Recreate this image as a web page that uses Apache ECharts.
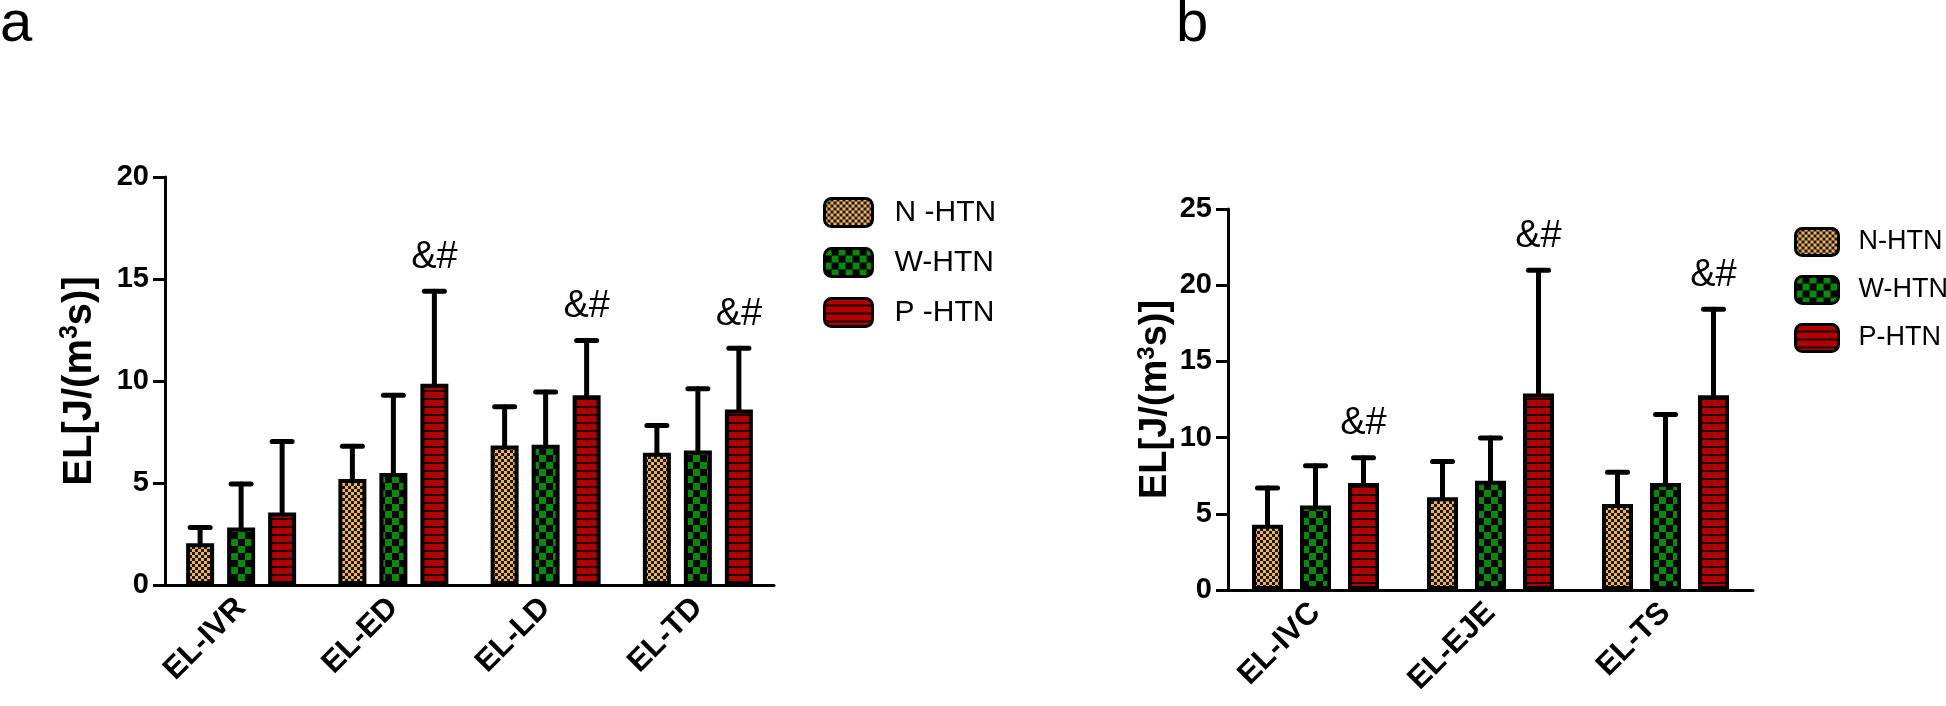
<!DOCTYPE html>
<html>
<head>
<meta charset="utf-8">
<script src="https://cdn.jsdelivr.net/npm/echarts@6/dist/echarts.min.js"></script>
<style>
  html, body { margin: 0; padding: 0; background: #fff; }
  #main { width: 1946px; height: 706px; }
</style>
</head>
<body>
<div id="main"></div>
<script>
// panel a
var catsA = ["EL-IVR", "EL-ED", "EL-LD", "EL-TD"]
var nA = [2.05, 5.2, 6.84, 6.48]
var nAtop = [2.82, 6.8, 8.74, 7.82]
var wA = [2.82, 5.49, 6.87, 6.59]
var wAtop = [4.95, 9.3, 9.46, 9.62]
var pA = [3.56, 9.87, 9.3, 8.6]
var pAtop = [7.03, 14.4, 11.98, 11.6]
var sigA = ["", "&#", "&#", "&#"]
var namesA = ["N -HTN", "W-HTN", "P -HTN"]
var ticksA = [0, 20, 5]

// panel b
var catsB = ["EL-IVC", "EL-EJE", "EL-TS"]
var nB = [4.28, 6.09, 5.65]
var nBtop = [6.7, 8.43, 7.72]
var wB = [5.54, 7.17, 7.02]
var wBtop = [8.15, 9.98, 11.52]
var pB = [7.02, 12.9, 12.78]
var pBtop = [8.67, 20.98, 18.43]
var sigB = ["&#", "&#", "&#"]
var namesB = ["N-HTN", "W-HTN", "P-HTN"]
var ticksB = [0, 25, 5]

// superscript 3 done with rich text
var yName = "EL[J/(m{s|3}s)]"

function tile(w, h, draw) {
  var c = document.createElement("canvas")
  c.width = w
  c.height = h
  draw(c.getContext("2d"))
  return { image: c, repeat: "repeat" }
}
var patN = tile(6, 6, function (ctx) {
  ctx.fillStyle = "#EEB15E"
  ctx.fillRect(0, 0, 6, 6)
  ctx.fillStyle = "#1a1a1a"
  ctx.fillRect(0, 0, 3, 3)
  ctx.fillRect(3, 3, 3, 3)
})
var patW = tile(14, 14, function (ctx) {
  ctx.fillStyle = "#000"
  ctx.fillRect(0, 0, 14, 14)
  ctx.fillStyle = "#0B870B"
  ctx.fillRect(0, 0, 7, 7)
  ctx.fillRect(7, 7, 7, 7)
})
var patP = tile(4, 8, function (ctx) {
  ctx.fillStyle = "#B00000"
  ctx.fillRect(0, 0, 4, 8)
  ctx.fillStyle = "#1a0000"
  ctx.fillRect(0, 6, 4, 2)
})
var pats = [patN, patW, patP]

var numFont = "'Liberation Sans Narrow', 'Liberation Sans', Arial, sans-serif"
var txtFont = "'Liberation Sans', Arial, sans-serif"

// bar layout per panel: bar width and distance between bar centres
var layA = { bw: 28, step: 41 }
var layB = { bw: 31, step: 48 }

function errSeries(g, k, means, tops, sig, lay) {
  var data = means.map(function (m, i) { return [i, m, tops[i]] })
  return {
    type: "custom",
    xAxisIndex: g,
    yAxisIndex: g,
    z: 5,
    silent: true,
    data: data,
    renderItem: function (params, api) {
      var p0 = api.coord([api.value(0), api.value(1)])
      var p1 = api.coord([api.value(0), api.value(2)])
      var x = p0[0] + (k - 1) * lay.step
      var ls = { stroke: "#000", lineWidth: 5, lineCap: "round" }
      var kids = [
        { type: "line", shape: { x1: x, y1: p0[1], x2: x, y2: p1[1] }, style: ls },
        { type: "line", shape: { x1: x - 10, y1: p1[1], x2: x + 10, y2: p1[1] }, style: ls }
      ]
      var s = sig ? sig[params.dataIndex] : ""
      if (s) {
        kids.push({
          type: "text",
          style: {
            x: x, y: p1[1] - 15, text: s, align: "center", verticalAlign: "bottom",
            fill: "#000", font: "38px " + numFont
          }
        })
      }
      return { type: "group", children: kids }
    }
  }
}

function barSeries(g, k, name, vals, lay, gap) {
  return {
    type: "bar",
    name: name,
    xAxisIndex: g,
    yAxisIndex: g,
    data: vals,
    barWidth: lay.bw,
    barGap: gap,
    itemStyle: { color: pats[k], borderColor: "#000", borderWidth: 4 }
  }
}

function xAx(g, cats) {
  return {
    type: "category",
    gridIndex: g,
    data: cats,
    axisLine: { lineStyle: { color: "#000", width: 3 } },
    axisTick: { alignWithLabel: true, length: 12, lineStyle: { color: "#000", width: 3 } },
    axisLabel: { interval: 0, rotate: 45, margin: 18, color: "#000", fontSize: 31, fontWeight: "bold", fontFamily: txtFont },
    z: 10
  }
}

function yAx(g, t, gap, fs) {
  return {
    type: "value",
    gridIndex: g,
    min: t[0], max: t[1], interval: t[2],
    splitLine: { show: false },
    axisLine: { show: true, lineStyle: { color: "#000", width: 3 } },
    axisTick: { show: true, length: 12, lineStyle: { color: "#000", width: 3 } },
    axisLabel: { margin: 16, color: "#000", fontSize: 29, fontWeight: "bold", fontFamily: numFont },
    name: yName,
    nameLocation: "middle",
    nameGap: gap,
    nameTextStyle: {
      color: "#000", fontSize: fs, fontWeight: "bold", fontFamily: txtFont,
      rich: { s: { fontSize: Math.round(fs * 0.62), fontWeight: "bold", fontFamily: txtFont, color: "#000", padding: [0, 0, Math.round(fs * 0.45), 0] } }
    },
    z: 10
  }
}

var chartDom = document.getElementById("main")
var myChart = echarts.init(chartDom)
var gapA = ((layA.step - layA.bw) / layA.bw * 100) + "%"
var gapB = ((layB.step - layB.bw) / layB.bw * 100) + "%"

var option = {
  animation: false,
  backgroundColor: "#fff",
  graphic: [
    { type: "text", left: 0, top: -4, style: { text: "a", font: "58px " + txtFont, fill: "#000" } },
    { type: "text", left: 1176, top: -4, style: { text: "b", font: "58px " + txtFont, fill: "#000" } }
  ],
  legend: [
    {
      data: namesA, orient: "vertical", left: 818, top: 192,
      itemWidth: 48, itemHeight: 28, itemGap: 19, icon: "roundRect",
      itemStyle: { borderColor: "#000", borderWidth: 3 },
      textStyle: { fontSize: 30, lineHeight: 28, color: "#000", fontFamily: txtFont, padding: [0, 0, 0, 17] }
    },
    {
      data: namesB, orient: "vertical", left: 1789, top: 222,
      itemWidth: 43, itemHeight: 27, itemGap: 18, icon: "roundRect",
      itemStyle: { borderColor: "#000", borderWidth: 3 },
      textStyle: { fontSize: 27, lineHeight: 27, color: "#000", fontFamily: txtFont, padding: [0, 0, 0, 15] }
    }
  ],
  grid: [
    { left: 165, top: 177, width: 609, height: 408 },
    { left: 1228, top: 209, width: 525, height: 381 }
  ],
  xAxis: [xAx(0, catsA), xAx(1, catsB)],
  yAxis: [yAx(0, ticksA, 64, 40), yAx(1, ticksB, 52, 38)],
  series: [
    barSeries(0, 0, namesA[0], nA, layA, gapA),
    barSeries(0, 1, namesA[1], wA, layA, gapA),
    barSeries(0, 2, namesA[2], pA, layA, gapA),
    barSeries(1, 0, namesB[0], nB, layB, gapB),
    barSeries(1, 1, namesB[1], wB, layB, gapB),
    barSeries(1, 2, namesB[2], pB, layB, gapB),
    errSeries(0, 0, nA, nAtop, null, layA),
    errSeries(0, 1, wA, wAtop, null, layA),
    errSeries(0, 2, pA, pAtop, sigA, layA),
    errSeries(1, 0, nB, nBtop, null, layB),
    errSeries(1, 1, wB, wBtop, null, layB),
    errSeries(1, 2, pB, pBtop, sigB, layB)
  ]
}

option && myChart.setOption(option)
</script>
</body>
</html>
